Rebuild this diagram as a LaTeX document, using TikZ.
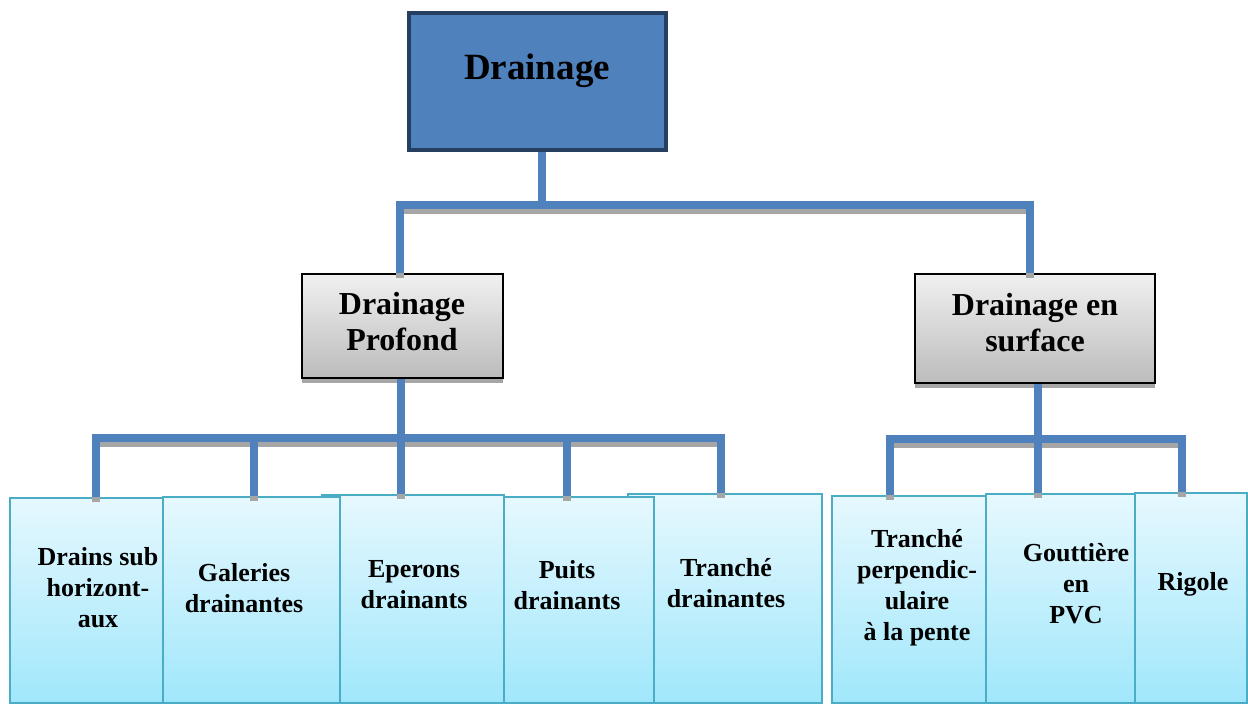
\documentclass[tikz,border=0pt]{standalone}
\usepackage{fontspec}
\setmainfont{Liberation Serif}
\usetikzlibrary{shadows}
\definecolor{topfill}{HTML}{4F81BD}
\definecolor{topdraw}{HTML}{243F60}
\definecolor{conncol}{HTML}{4F81BD}
\definecolor{shcol}{HTML}{A6A6A6}
\definecolor{leafdraw}{HTML}{4BACC6}
\definecolor{leaftop}{HTML}{E6F8FE}
\definecolor{leafbot}{HTML}{A0E7FB}
\definecolor{midtop}{HTML}{F0F0F0}
\definecolor{midbot}{HTML}{BCBCBC}
\newcommand\connpaths[1]{%
  \draw[#1] (top.south -| J0) -- (J0);
  \draw[#1] (mpL.north -| xL) |- (J0) -| (mpR.north -| xR);
  \draw[#1] (mpL.south -| JL) -- (JL);
  \draw[#1] (b1.north -| x1) |- (JL) -| (b5.north -| x5);
  \draw[#1] (b2.north -| x2) -- (x2 |- JL);
  \draw[#1] (b3.north -| JL) -- (JL);
  \draw[#1] (b4.north -| x4) -- (x4 |- JL);
  \draw[#1] (mpR.south -| JR) -- (JR);
  \draw[#1] (b6.north -| x6) |- (JR) -| (b8.north -| x8);
  \draw[#1] (b7.north -| JR) -- (JR);
}
\begin{document}
\begin{tikzpicture}[x=1pt,y=-1pt,
  topbox/.style={draw=topdraw, line width=4pt, fill=topfill, inner sep=0pt},
  midbox/.style={draw=black, line width=1.5pt, top color=midtop, bottom color=midbot, inner sep=0pt,
    drop shadow={shadow xshift=0pt, shadow yshift=-5pt, fill=black!35, opacity=1}},
  leaf/.style={draw=leafdraw, line width=1.5pt, top color=leaftop, bottom color=leafbot, inner sep=0pt},
  toplbl/.style={font=\bfseries\fontsize{37}{42}\selectfont, inner sep=0pt},
  midlbl/.style={font=\bfseries\fontsize{32}{36}\selectfont, align=center, inner sep=0pt},
  lbl/.style={font=\bfseries\fontsize{26}{31}\selectfont, align=center, inner sep=0pt},
  connsh/.style={line width=8pt, draw=shcol, transform canvas={yshift=-5pt}},
  conn/.style={line width=8pt, draw=conncol}
]
\useasboundingbox (0,0) rectangle (1248,704);
\fill[white] (0,0) rectangle (1248,704);

% top box
\node[topbox, minimum width=257pt, minimum height=137pt] (top) at (537.5,81.5) {};
\node[toplbl] (tTop) at (537,71) {Drainage};

% middle boxes
\node[midbox, minimum width=201pt, minimum height=104pt] (mpL) at (402.5,326) {};
\node[midlbl] (tL) at (402,322) {Drainage\\Profond};
\node[midbox, minimum width=240pt, minimum height=109pt] (mpR) at (1035,328.5) {};
\node[midlbl] (tR) at (1035,323) {Drainage en\\surface};

% leaf boxes (back ones first)
\node[leaf, minimum width=153pt, minimum height=205pt] (b1) at (86.5,600.5) {};
\node[leaf, minimum width=182pt, minimum height=208pt] (b3) at (413,599) {};
\node[leaf, minimum width=194pt, minimum height=209pt] (b5) at (725,598.5) {};
\node[leaf, minimum width=177pt, minimum height=206pt] (b2) at (251.5,600) {};
\node[leaf, minimum width=150pt, minimum height=206pt] (b4) at (579,600) {};
\node[leaf, minimum width=154pt, minimum height=207pt] (b6) at (909,599.5) {};
\node[leaf, minimum width=149pt, minimum height=209pt] (b7) at (1060.5,598.5) {};
\node[leaf, minimum width=112pt, minimum height=210pt] (b8) at (1191,598) {};

\node[lbl] (t1) at (98,588) {Drains sub\\horizont-\\aux};
\node[lbl] (t2) at (244,588) {Galeries\\drainantes};
\node[lbl] (t3) at (414,584.5) {Eperons\\drainants};
\node[lbl] (t4) at (567,585.5) {Puits\\drainants};
\node[lbl] (t5) at (726,583.5) {Tranché\\drainantes};
\node[lbl] (t6) at (917,587.5) {Tranché\\perpendic-\\ulaire\\à la pente};
\node[lbl] (t7) at (1076,583.5) {Gouttière\\en\\PVC};
\node[lbl] (t8) at (1193,584) {Rigole};

% connector coordinates
\coordinate (J0) at (542,205);
\coordinate (xL) at (400,0);
\coordinate (xR) at (1030,0);
\coordinate (JL) at (401,438);
\coordinate (x1) at (96,0);
\coordinate (x2) at (254,0);
\coordinate (x4) at (567,0);
\coordinate (x5) at (721,0);
\coordinate (JR) at (1038,439);
\coordinate (x6) at (890,0);
\coordinate (x8) at (1182,0);

\connpaths{connsh}
\connpaths{conn}
\end{tikzpicture}
\end{document}
